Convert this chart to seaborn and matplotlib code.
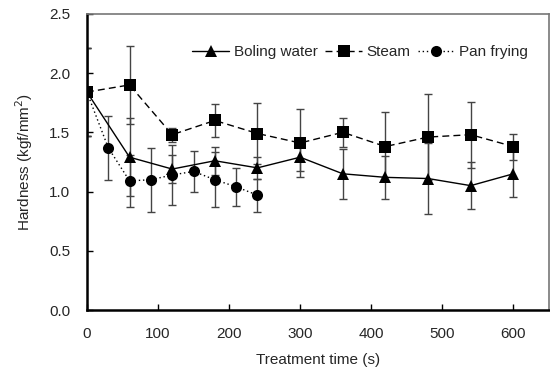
import numpy as np
import pandas as pd
import matplotlib
matplotlib.use("Agg")
import matplotlib.pyplot as plt
import seaborn as sns

# hardness readings, kgf/mm2
boil_t = [0, 60, 120, 180, 240, 300, 360, 420, 480, 540, 600]
boil_y = [1.84, 1.29, 1.19, 1.26, 1.20, 1.29, 1.15, 1.12, 1.11, 1.05, 1.15]
boil_e = [0.37, 0.33, 0.12, 0.12, 0.09, 0.12, 0.21, 0.18, 0.30, 0.20, 0.20]

steam_t = [0, 60, 120, 180, 240, 300, 360, 420, 480, 540, 600]
steam_y = [1.84, 1.90, 1.48, 1.60, 1.49, 1.41, 1.50, 1.38, 1.46, 1.48, 1.38]
steam_e = [0.37, 0.33, 0.06, 0.14, 0.26, 0.29, 0.12, 0.29, 0.36, 0.28, 0.11]

pan_t = [0, 30, 60, 90, 120, 150, 180, 210, 240]
pan_y = [1.84, 1.37, 1.09, 1.10, 1.14, 1.17, 1.10, 1.04, 0.97]
pan_e = [0.37, 0.27, 0.22, 0.27, 0.25, 0.17, 0.23, 0.16, 0.14]

sns.set_style("white")
plt.rcParams["font.family"] = ["Liberation Sans", "DejaVu Sans"]
plt.rcParams["font.size"] = 11

fig = plt.figure(figsize=(5.5, 3.74), dpi=100)
ax = fig.add_axes([0.158, 0.171, 0.84, 0.792])

series = [
    ("Boling water", boil_t, boil_y, boil_e, "^", "-"),
    ("Steam", steam_t, steam_y, steam_e, "s", (0, (5, 3))),
    ("Pan frying", pan_t, pan_y, pan_e, "o", (0, (1, 2))),
]

for name, t, y, e, mk, ls in series:
    ax.errorbar(t, y, yerr=e, fmt="none", ecolor="#444444", elinewidth=1,
                capsize=3, capthick=1, zorder=1)
    df = pd.DataFrame({"t": t, "y": y})
    sns.lineplot(data=df, x="t", y="y", ax=ax, color="black", linewidth=1,
                 linestyle=ls, marker=mk, markersize=8, markeredgewidth=0,
                 label=name, zorder=3)

ax.set_xlim(0, 650)
ax.set_ylim(0, 2.5)
ax.set_xticks(range(0, 601, 100))
ax.set_yticks(np.arange(0, 2.51, 0.5))
ax.set_yticklabels([f"{v:.1f}" for v in np.arange(0, 2.51, 0.5)])
ax.set_xlabel("Treatment time (s)", labelpad=9)
ax.set_ylabel("Hardness (kgf/mm$^2$)", labelpad=10)
ax.tick_params(direction="in", length=4, width=1, color="black",
               left=True, bottom=True, pad=12)

for side in ["left", "bottom"]:
    ax.spines[side].set_color("black")
    ax.spines[side].set_linewidth(1.8)
for side in ["top", "right"]:
    ax.spines[side].set_color("#777777")
    ax.spines[side].set_linewidth(1.2)

ax.legend(loc="upper right", ncol=3, frameon=False, handlelength=2.4,
          handletextpad=0.3, columnspacing=0.5, bbox_to_anchor=(0.985, 0.94))

fig.savefig("out.png", dpi=100)
